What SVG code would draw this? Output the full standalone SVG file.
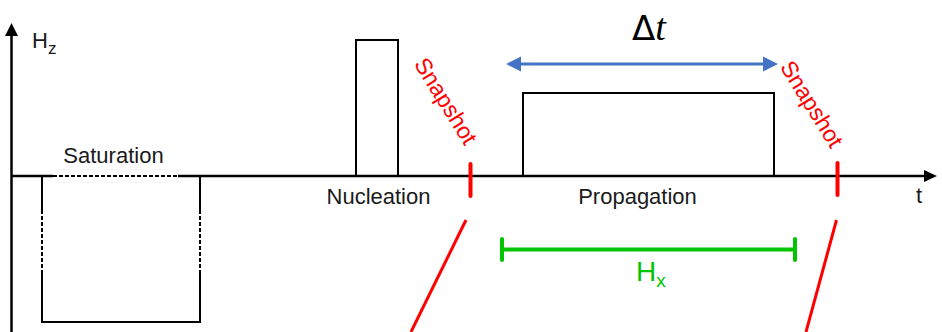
<svg xmlns="http://www.w3.org/2000/svg" width="942" height="332" viewBox="0 0 942 332">
<style>
.ax{stroke:#000;stroke-width:2.5;fill:none}
.p{stroke:#000;stroke-width:2;fill:none}
.d{stroke:#000;stroke-width:2;fill:none;stroke-dasharray:4 2}
.lbl{font-family:"Liberation Sans",Arial,sans-serif;font-size:22px;fill:#1a1a1a}
.red{stroke:#ff0000;fill:none}
.snap{font-family:"Liberation Sans",Arial,sans-serif;font-size:23px;fill:#ff0000}
</style>
<rect width="942" height="332" fill="#fff"/>
<g id="axes">
<line class="ax" x1="11.5" y1="332" x2="11.5" y2="34"/>
<polygon points="11.5,23 5,36 18,36" fill="#000"/>
<line class="ax" x1="11" y1="176" x2="53" y2="176"/>
<line class="ax" x1="178" y1="176" x2="925" y2="176"/>
<polygon points="937,176 924,170 924,182" fill="#000"/>
<text class="lbl" x="32" y="48" font-size="25">H<tspan font-size="17" dy="6">z</tspan></text>
<text class="lbl" x="916" y="203" font-size="27">t</text>
</g>
<g id="saturation">
<line class="d" x1="53" y1="176" x2="178" y2="176"/>
<path class="p" d="M42,176 V210 M42,270 V322 H200 V270 M200,210 V176"/>
<path class="d" d="M42,210 V270 M200,210 V270"/>
<text class="lbl" x="113.5" y="163" text-anchor="middle">Saturation</text>
</g>
<g id="nucleation">
<path class="p" d="M356,176 V40 H398 V176"/>
<text class="lbl" x="378.5" y="204" text-anchor="middle">Nucleation</text>
</g>
<g id="propagation">
<path class="p" d="M523,176 V93 H774 V176"/>
<text class="lbl" x="637.5" y="204" text-anchor="middle">Propagation</text>
</g>
<g id="snapshot1">
<text class="snap" transform="translate(446,101) rotate(58)" text-anchor="middle" dy="0.35em">Snapshot</text>
<line class="red" stroke-width="4" stroke-linecap="round" x1="470.5" y1="164" x2="470.5" y2="196"/>
<line class="red" stroke-width="3" x1="466" y1="220" x2="411" y2="332"/>
</g>
<g id="snapshot2">
<text class="snap" transform="translate(812,104) rotate(58)" text-anchor="middle" dy="0.35em">Snapshot</text>
<line class="red" stroke-width="4" stroke-linecap="round" x1="837.5" y1="163" x2="837.5" y2="195"/>
<line class="red" stroke-width="3" x1="836.5" y1="220" x2="806" y2="332"/>
</g>
<g id="dt">
<line x1="518" y1="64" x2="766" y2="64" stroke="#4472c4" stroke-width="3"/>
<polygon points="506,64 521,56.5 521,71.5" fill="#4472c4"/>
<polygon points="778,64 763,56.5 763,71.5" fill="#4472c4"/>
<text x="649" y="40" text-anchor="middle" font-family="'DejaVu Sans',sans-serif" font-size="34" fill="#000">Δ<tspan font-family="'Liberation Serif',serif" font-style="italic" font-size="38">t</tspan></text>
</g>
<g id="hx">
<line x1="502" y1="249.5" x2="795" y2="249.5" stroke="#00c400" stroke-width="4"/>
<line x1="502" y1="239" x2="502" y2="260" stroke="#00c400" stroke-width="4" stroke-linecap="round"/>
<line x1="795" y1="239" x2="795" y2="260" stroke="#00c400" stroke-width="4" stroke-linecap="round"/>
<text x="636" y="281" font-family="'Liberation Sans',Arial,sans-serif" font-size="28" fill="#00c400">H<tspan font-size="19" dy="6">x</tspan></text>
</g>
</svg>
